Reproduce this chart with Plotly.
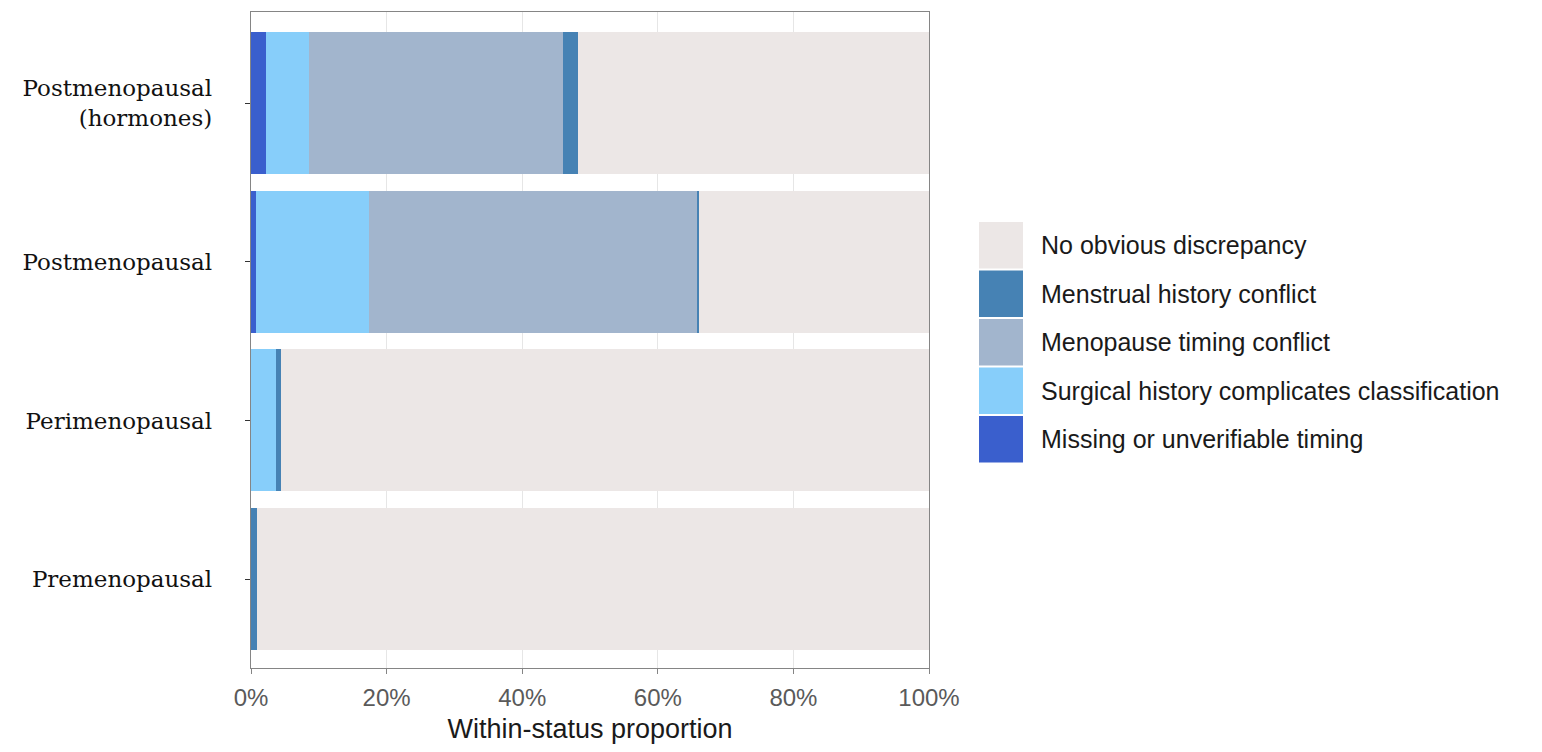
import plotly.graph_objects as go

categories = ["Premenopausal", "Perimenopausal", "Postmenopausal", "Postmenopausal<br>(hormones)"]

# stacking order left -> right
series_names = [
    "Missing or unverifiable timing",
    "Surgical history complicates classification",
    "Menopause timing conflict",
    "Menstrual history conflict",
    "No obvious discrepancy",
]
series_colors = ["#3A5FCD", "#87CEFA", "#A2B5CD", "#4682B4", "#ECE7E6"]

missing = [0.0, 0.0, 0.8, 2.2]
surgical = [0.0, 3.7, 16.6, 6.3]
menopause_timing = [0.0, 0.0, 48.5, 37.5]
menstrual = [0.9, 0.7, 0.2, 2.2]
no_discrepancy = [99.1, 95.6, 33.9, 51.8]

series_values = [missing, surgical, menopause_timing, menstrual, no_discrepancy]

x_ticks = [0, 20, 40, 60, 80, 100]
x_tick_labels = ["0%", "20%", "40%", "60%", "80%", "100%"]

fig = go.Figure()
for name, color, vals in zip(series_names, series_colors, series_values):
    fig.add_trace(go.Bar(
        y=categories, x=vals, name=name, orientation="h",
        marker=dict(color=color, line=dict(width=0)),
        showlegend=False,
    ))

# page body has an 8px margin; compensate so the picture lands where the reference has it
OFF = 8
W, H = 1542 - 2 * OFF, 752 - 2 * OFF
ml, mt = 251 - OFF, 12 - OFF
pw, ph = 678, 656
mr, mb = W - ml - pw, H - mt - ph

sans = "Liberation Sans, Arial, sans-serif"

fig.update_layout(
    width=W, height=H, autosize=False,
    barmode="stack", bargap=0.105,
    plot_bgcolor="white", paper_bgcolor="white",
    margin=dict(l=ml, r=mr, t=mt, b=mb, pad=0, autoexpand=False),
    xaxis=dict(
        range=[0, 100], tickvals=x_ticks, ticktext=x_tick_labels,
        showgrid=True, gridcolor="#E6E6E6", gridwidth=1.2,
        showline=True, mirror=True, linecolor="#858585", linewidth=1.4,
        ticks="outside", ticklen=5, tickcolor="#858585", tickwidth=1.2,
        ticklabelstandoff=3,
        tickfont=dict(family=sans, size=24, color="#5A5A5A"),
        title=dict(text="Within-status proportion",
                   font=dict(family=sans, size=27, color="#1A1A1A"),
                   standoff=20),
        zeroline=False,
    ),
    yaxis=dict(
        range=[-0.56, 3.574], categoryorder="array", categoryarray=categories,
        showgrid=False,
        showline=True, mirror=True, linecolor="#858585", linewidth=1.4,
        ticks="outside", ticklen=5, tickcolor="#333333", tickwidth=1.2,
        ticklabelstandoff=28,
        tickfont=dict(family="DejaVu Serif, Georgia, serif", size=23, color="#111111"),
    ),
)

# legend drawn from the series lists (reversed order, as in the reference)
key_x0, key_x1 = 979 - OFF, 1023 - OFF
key_top, key_h = 221 - OFF, 48.5
for i, (name, color) in enumerate(zip(series_names[::-1], series_colors[::-1])):
    y0 = key_top + i * key_h
    fig.add_shape(type="rect", xref="paper", yref="paper",
                  x0=(key_x0 - ml) / pw, x1=(key_x1 - ml) / pw,
                  y0=1 - (y0 + key_h - 1 - mt) / ph, y1=1 - (y0 + 1 - mt) / ph,
                  fillcolor=color, line=dict(width=0), layer="above")
    fig.add_annotation(xref="paper", yref="paper",
                       x=(1039 - OFF - ml) / pw, y=1 - (y0 + key_h / 2 - mt) / ph,
                       text=name, showarrow=False, xanchor="left", yanchor="middle",
                       font=dict(family=sans, size=25, color="#1A1A1A"))

fig.write_html("out.html")
